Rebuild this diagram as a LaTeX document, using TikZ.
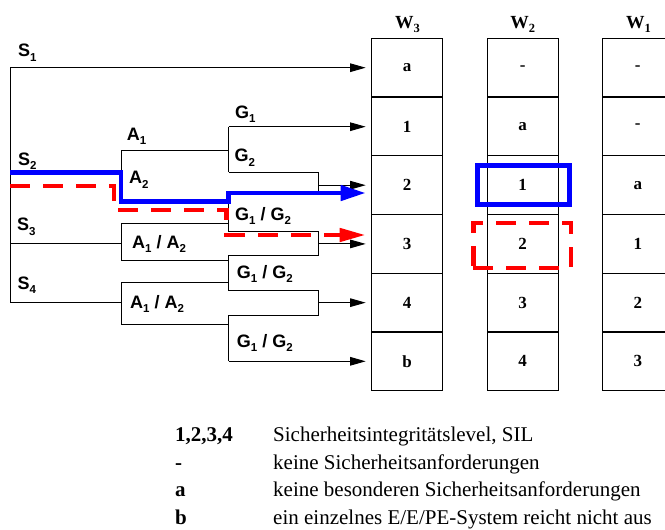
\documentclass[tikz,border=0pt]{standalone}
\usepackage{fontspec}
\setmainfont{Liberation Serif}
\newfontfamily\treefont{Liberation Sans}
\usetikzlibrary{arrows.meta}
% lowered index digits for the tree labels and the column heads
\newcommand\lsub[1]{\raisebox{-4.5pt}{\fontsize{11.5}{11.5}\selectfont #1}}
\newcommand\wsub[1]{\raisebox{-3.5pt}{\fontsize{12.5}{12.5}\selectfont #1}}

\begin{document}
\begin{tikzpicture}[x=1pt,y=-1pt,
  wire/.style={line width=1pt},
  feed/.style={wire,-{Triangle[length=15.5pt,width=8.5pt]},shorten >=6pt},
  lbl/.style={font=\treefont\bfseries\fontsize{18}{20}\selectfont,anchor=base west,inner sep=0pt},
  cell/.style={draw,line width=1.3pt,minimum width=71pt,minimum height=58.73pt,
    inner sep=0pt,outer sep=0pt,font=\bfseries\fontsize{17}{19}\selectfont},
  head/.style={font=\bfseries\fontsize{18.5}{20}\selectfont,anchor=base,inner sep=0pt},
  bluepath/.style={draw=blue,line width=4.5pt},
  redpath/.style={draw=red,line width=4.5pt,dash pattern=on 20pt off 13pt},
  legkey/.style={font=\bfseries\fontsize{21}{24}\selectfont,anchor=base west,inner sep=0pt},
  legtext/.style={font=\fontsize{21}{24}\selectfont,anchor=base west,inner sep=0pt}]

\useasboundingbox (0,0) rectangle (665,530);

% ---- columns W3, W2, W1 ----
\foreach \t [count=\r] in {a,1,2,3,4,b}
  \node[cell] (w3r\r) at (407.2,{9+58.73*\r}) {\t};
\foreach \t [count=\r] in {-,a,1,2,3,4}
  \node[cell] (w2r\r) at (522.7,{9+58.73*\r}) {\t};
\foreach \t [count=\r] in {-,-,a,1,2,3}
  \node[cell] (w1r\r) at (637.8,{9+58.73*\r}) {\t};

\node[head] (h3) at (407.5,28.5) {W\wsub{3}};
\node[head] (h2) at (522.7,28.5) {W\wsub{2}};
\node[head] (h1) at (638.5,28.5) {W\wsub{1}};

% ---- tree junctions ----
\coordinate (s1) at (10,67.7);
\coordinate (s2) at (10,172.7);
\coordinate (s3) at (10,243.5);
\coordinate (s4) at (10,302.6);
\coordinate (a2top) at (121,150);   \coordinate (a2bot) at (121,201.5);
\coordinate (a3top) at (121,223.3); \coordinate (a3bot) at (121,260.7);
\coordinate (a4top) at (121,282.7); \coordinate (a4bot) at (121,324.3);
\coordinate (g1top) at (228.5,126.7); \coordinate (g1bot) at (228.5,172.3);
\coordinate (g2top) at (228.5,193);   \coordinate (g2bot) at (228.5,231.7);
\coordinate (g3top) at (228.5,255);   \coordinate (g3bot) at (228.5,290.7);
\coordinate (g4top) at (228.5,315);   \coordinate (g4bot) at (228.5,361.3);
\coordinate (m2top) at (318.7,172.3); \coordinate (m2bot) at (318.7,193);
\coordinate (m3top) at (318.7,231.7); \coordinate (m3bot) at (318.7,255);
\coordinate (m4top) at (318.7,290.7); \coordinate (m4bot) at (318.7,315);

% ---- tree wires ----
\draw[wire] (s1) -- (s4);
\draw[feed] (s1) -- (s1 -| w3r1.west);
\draw[wire] (s2) -- (s2 -| a2top);
\draw[wire] (s3) -- (s3 -| a3top);
\draw[wire] (s4) -- (s4 -| a4top);
\draw[wire] (a2top) -- (a2bot);
\draw[wire] (a3top) -- (a3bot);
\draw[wire] (a4top) -- (a4bot);
\draw[wire] (a2top) -- (a2top -| g1top);
\draw[wire] (a2bot) -- (a2bot -| g2top);
\draw[wire] (a3top) -- (a3top -| g2top);
\draw[wire] (a3bot) -- (a3bot -| g3top);
\draw[wire] (a4top) -- (a4top -| g3top);
\draw[wire] (a4bot) -- (a4bot -| g4top);
\draw[wire] (g1top) -- (g1bot);
\draw[wire] (g2top) -- (g2bot);
\draw[wire] (g3top) -- (g3bot);
\draw[wire] (g4top) -- (g4bot);
\draw[feed] (g1top) -- (g1top -| w3r2.west);
\draw[wire] (g1bot) -- (m2top) -- (m2bot) -- (g2top);
\draw[wire] (g2bot) -- (m3top) -- (m3bot) -- (g3top);
\draw[wire] (g3bot) -- (m4top) -- (m4bot) -- (g4top);
\draw[feed] (m2top |- w3r3.west) -- (w3r3.west);
\draw[feed] (m3top |- w3r4.west) -- (w3r4.west);
\draw[feed] (m4top |- w3r5.west) -- (w3r5.west);
\draw[feed] (g4bot) -- (g4bot -| w3r6.west);

% ---- tree labels ----
\node[lbl] (ls1) at (18,56.7) {S\lsub{1}};
\node[lbl] (ls2) at (18,165) {S\lsub{2}};
\node[lbl] (ls3) at (17,230.7) {S\lsub{3}};
\node[lbl] (ls4) at (17.3,289) {S\lsub{4}};
\node[lbl] (la1) at (126.7,140) {A\lsub{1}};
\node[lbl] (la2) at (129,183.5) {A\lsub{2}};
\node[lbl] (lg1) at (235,118) {G\lsub{1}};
\node[lbl] (lg2) at (234.3,161.5) {G\lsub{2}};
\node[lbl] (lg12a) at (235,220) {G\lsub{1} / G\lsub{2}};
\node[lbl] (la12a) at (132,248) {A\lsub{1} / A\lsub{2}};
\node[lbl] (lg12b) at (236.7,278) {G\lsub{1} / G\lsub{2}};
\node[lbl] (la12b) at (130,308) {A\lsub{1} / A\lsub{2}};
\node[lbl] (lg12c) at (236.7,347) {G\lsub{1} / G\lsub{2}};

% ---- highlighted paths ----
\coordinate (r0) at (10,186);
\coordinate (r1) at (114,186);
\coordinate (r2) at (114,210);
\coordinate (r3) at (226.7,210);
\coordinate (r4) at (226.7,235);
\draw[redpath,-{Triangle[length=26pt,width=13pt]},shorten >=6pt]
  (r0) -- (r1) -- (r2) -- (r3) -- (r4) -- (r4 -| w3r4.west);
\draw[bluepath,-{Triangle[length=25pt,width=15pt]},shorten >=6pt]
  (s2) -- (s2 -| a2top) -- (a2bot) -- (a2bot -| g2top) -- (g2top) -- (g2top -| w3r3.west);

\node[draw=blue,line width=4.5pt,minimum width=92pt,minimum height=38.6pt,inner sep=0pt]
  (sel1) at (523.3,185) {};
\node[redpath,minimum width=97.7pt,minimum height=45.4pt,inner sep=0pt]
  (sel2) at (522.2,245.5) {};

% ---- legend ----
\node[legkey] (k1) at (175,441.5) {1,2,3,4};
\node[legtext] (t1) at (273,441.5) {Sicherheitsintegritätslevel, SIL};
\node[legkey] (k2) at (175,469.2) {-};
\node[legtext] (t2) at (273,469.2) {keine Sicherheitsanforderungen};
\node[legkey] (k3) at (175,496.9) {a};
\node[legtext] (t3) at (273,496.9) {keine besonderen Sicherheitsanforderungen};
\node[legkey] (k4) at (175,524.6) {b};
\node[legtext] (t4) at (273,524.6) {ein einzelnes E/E/PE-System reicht nicht aus};
\end{tikzpicture}
\end{document}
